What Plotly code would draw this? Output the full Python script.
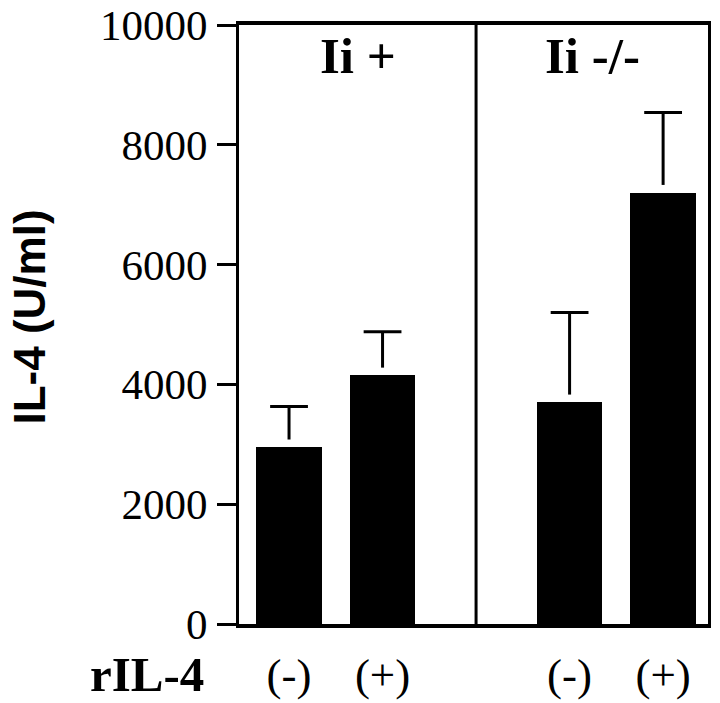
import plotly.graph_objects as go

# ---- data ----
groups = ["Ii +", "Ii -/-"]
conditions = ["(-)", "(+)", "(-)", "(+)"]
bar_group = [0, 0, 1, 1]
values = [2950, 4150, 3700, 7200]
upper = [3630, 4880, 5200, 8540]
y_ticks = [0, 2000, 4000, 6000, 8000, 10000]
x_label = "rIL-4"
y_label = "IL-4 (U/ml)"

# ---- positions derived from categories (one slot gap between groups) ----
xpos = [i + g for i, g in enumerate(bar_group)]
errs = [u - v for u, v in zip(upper, values)]
gap_units = 130  # small visual gap between bar top and error stem

serif = "Liberation Serif"
sans = "Liberation Sans"

fig = go.Figure()
fig.add_trace(go.Bar(
    x=xpos, y=values, width=0.7,
    marker=dict(color="black", line=dict(width=0)),
    showlegend=False, hoverinfo="skip",
))
# error stems (no caps)
fig.add_trace(go.Scatter(
    x=xpos, y=[v + gap_units for v in values], mode="markers",
    marker=dict(size=1, color="rgba(0,0,0,0)"),
    error_y=dict(type="data", symmetric=False,
                 array=[e - gap_units for e in errs],
                 arrayminus=[0] * len(values),
                 color="black", thickness=3, width=0),
    showlegend=False, hoverinfo="skip",
))
# error caps
fig.add_trace(go.Scatter(
    x=xpos, y=upper, mode="markers",
    marker=dict(symbol="line-ew", size=27, color="black",
                line=dict(color="black", width=3)),
    showlegend=False, hoverinfo="skip",
))

# divider between the two groups
divider_x = (xpos[1] + xpos[2]) / 2
fig.add_shape(type="line", xref="x", yref="paper", x0=divider_x, x1=divider_x,
              y0=0, y1=1, line=dict(color="black", width=3))

# group labels centered in each panel
xmin, xmax = -0.535, 4.48
panel_centers = [(xmin + divider_x) / 2, (divider_x + xmax) / 2]
for g, cx in zip(groups, panel_centers):
    fig.add_annotation(x=cx, y=0.948, xref="x", yref="paper", text=f"<b>{g}</b>",
                       showarrow=False, font=dict(family=serif, size=51, color="black"),
                       xanchor="center", yanchor="middle")

fig.add_annotation(x=-0.196, y=-0.085, xref="paper", yref="paper",
                   text=f"<b>{x_label}</b>", showarrow=False,
                   font=dict(family=serif, size=49, color="black"),
                   xanchor="center", yanchor="middle")
fig.add_annotation(x=-0.446, y=0.513, xref="paper", yref="paper",
                   text=f"<b>{y_label}</b>", showarrow=False, textangle=-90,
                   font=dict(family=sans, size=44, color="black"),
                   xanchor="center", yanchor="middle")

fig.update_layout(
    width=720, height=703,
    margin=dict(l=239, r=12, t=25, b=79),
    plot_bgcolor="white", paper_bgcolor="white",
    bargap=0,
)
fig.update_xaxes(
    range=[xmin, xmax], tickmode="array", tickvals=xpos, ticktext=conditions,
    showline=True, linecolor="black", linewidth=4, mirror=True,
    ticks="", showgrid=False, zeroline=False, automargin=False,
    tickfont=dict(family=serif, size=45, color="black"),
    ticklabelstandoff=8,
)
fig.update_yaxes(
    range=[0, 10000], tickmode="array", tickvals=y_ticks,
    ticktext=[str(t) for t in y_ticks],
    showline=True, linecolor="black", linewidth=3, mirror=True,
    ticks="outside", ticklen=19, tickwidth=3, tickcolor="black",
    showgrid=False, zeroline=False, automargin=False,
    tickfont=dict(family=serif, size=43, color="black"),
    ticklabelstandoff=1,
)

fig.write_html("out.html", config={"displayModeBar": False},
               post_script="document.body.style.margin='0';")
